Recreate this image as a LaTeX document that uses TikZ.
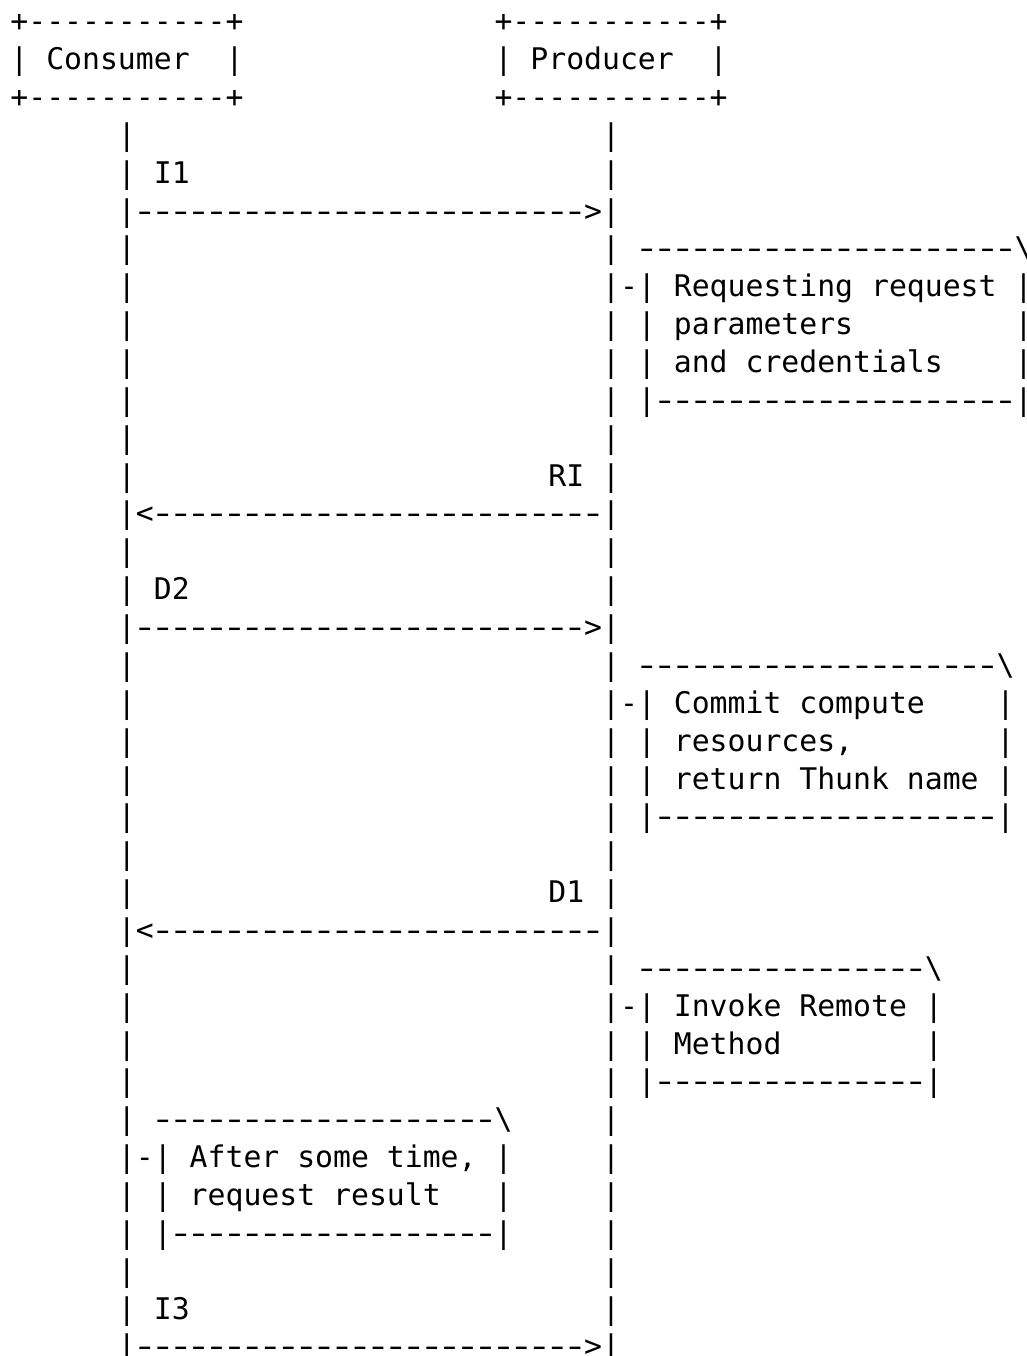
\documentclass[tikz,border=0pt]{standalone}
\usepackage{fontspec}
\usepackage{graphicx}
\setmonofont{DejaVu Sans Mono}
% one character cell of the figure
\newlength\cellw
\setlength\cellw{8.965pt}
% a stretched hyphen filling most of its cell, for the long rules
\newcommand\longdash{\makebox[\cellw][c]{\scalebox{1.42}[1]{-}}}
\ExplSyntaxOn
\cs_new:Npn \hyrun #1 { \prg_replicate:nn {#1} {-} }
\cs_new:Npn \dashrun #1 { \prg_replicate:nn {#1} { \longdash } }
\ExplSyntaxOff
\tikzset{
  ascii/.style={anchor=west, inner sep=0pt, outer sep=0pt,
    font=\ttfamily\fontsize{14.891pt}{18.93pt}\selectfont,
    text height=11.32pt, text depth=3.57pt, text=black}
}
\newcommand\putcell[4]{\node[ascii] (#1) at (#2,#3) {#4};}
\begin{document}
\begin{tikzpicture}[x=8.965pt, y=-18.93pt]
\frenchspacing
\useasboundingbox (-0.58,-0.634) rectangle (56.64,35.18);

% participant boxes
\putcell{cbtop}{0}{0}{+\hyrun{11}+}
\putcell{pbtop}{27}{0}{+\hyrun{11}+}
\putcell{cbl}{0}{1}{|}
\putcell{cname}{2}{1}{Consumer}
\putcell{cbr}{12}{1}{|}
\putcell{pbl}{27}{1}{|}
\putcell{pname}{29}{1}{Producer}
\putcell{pbr}{39}{1}{|}
\putcell{cbbot}{0}{2}{+\hyrun{11}+}
\putcell{pbbot}{27}{2}{+\hyrun{11}+}

% lifelines (rows carrying a message or a note tick are drawn with it)
\foreach \r in {3,4,6,7,...,12,14,15,17,18,...,23,25,26,...,29,31,32,33,34}
  \node[ascii] (cl\r) at (6,\r) {|};
\foreach \r in {3,4,6,8,9,...,12,14,15,17,19,20,...,23,25,27,28,...,34}
  \node[ascii] (pl\r) at (33,\r) {|};

% I1
\putcell{lblI1}{8}{4}{I1}
\putcell{msgI1}{6}{5}{|\dashrun{25}>|}

% producer: requesting request parameters
\putcell{aTop}{35}{6}{\dashrun{21}\textbackslash}
\putcell{aTick}{33}{7}{|-|}
\putcell{aTxtA}{37}{7}{Requesting request}
\putcell{aRA}{56}{7}{|}
\putcell{aLB}{35}{8}{|}
\putcell{aTxtB}{37}{8}{parameters}
\putcell{aRB}{56}{8}{|}
\putcell{aLC}{35}{9}{|}
\putcell{aTxtC}{37}{9}{and credentials}
\putcell{aRC}{56}{9}{|}
\putcell{aBot}{35}{10}{|\dashrun{20}|}

% RI
\putcell{lblRI}{30}{12}{RI}
\putcell{msgRI}{6}{13}{|<\dashrun{25}|}

% D2
\putcell{lblD2}{8}{15}{D2}
\putcell{msgD2}{6}{16}{|\dashrun{25}>|}

% producer: commit compute resources
\putcell{bTop}{35}{17}{\dashrun{20}\textbackslash}
\putcell{bTick}{33}{18}{|-|}
\putcell{bTxtA}{37}{18}{Commit compute}
\putcell{bRA}{55}{18}{|}
\putcell{bLB}{35}{19}{|}
\putcell{bTxtB}{37}{19}{resources,}
\putcell{bRB}{55}{19}{|}
\putcell{bLC}{35}{20}{|}
\putcell{bTxtC}{37}{20}{return Thunk name}
\putcell{bRC}{55}{20}{|}
\putcell{bBot}{35}{21}{|\dashrun{19}|}

% D1
\putcell{lblD1}{30}{23}{D1}
\putcell{msgD1}{6}{24}{|<\dashrun{25}|}

% producer: invoke remote method
\putcell{cTop}{35}{25}{\dashrun{16}\textbackslash}
\putcell{cTick}{33}{26}{|-|}
\putcell{cTxtA}{37}{26}{Invoke Remote}
\putcell{cRA}{51}{26}{|}
\putcell{cLB}{35}{27}{|}
\putcell{cTxtB}{37}{27}{Method}
\putcell{cRB}{51}{27}{|}
\putcell{cBot}{35}{28}{|\dashrun{15}|}

% consumer: request result later
\putcell{dTop}{8}{29}{\dashrun{19}\textbackslash}
\putcell{dTick}{6}{30}{|-|}
\putcell{dTxtA}{10}{30}{After some time,}
\putcell{dRA}{27}{30}{|}
\putcell{dLB}{8}{31}{|}
\putcell{dTxtB}{10}{31}{request result}
\putcell{dRB}{27}{31}{|}
\putcell{dBot}{8}{32}{|\dashrun{18}|}

% I3
\putcell{lblI3}{8}{34}{I3}
\putcell{msgI3}{6}{35}{|\dashrun{25}>|}
\end{tikzpicture}
\end{document}
